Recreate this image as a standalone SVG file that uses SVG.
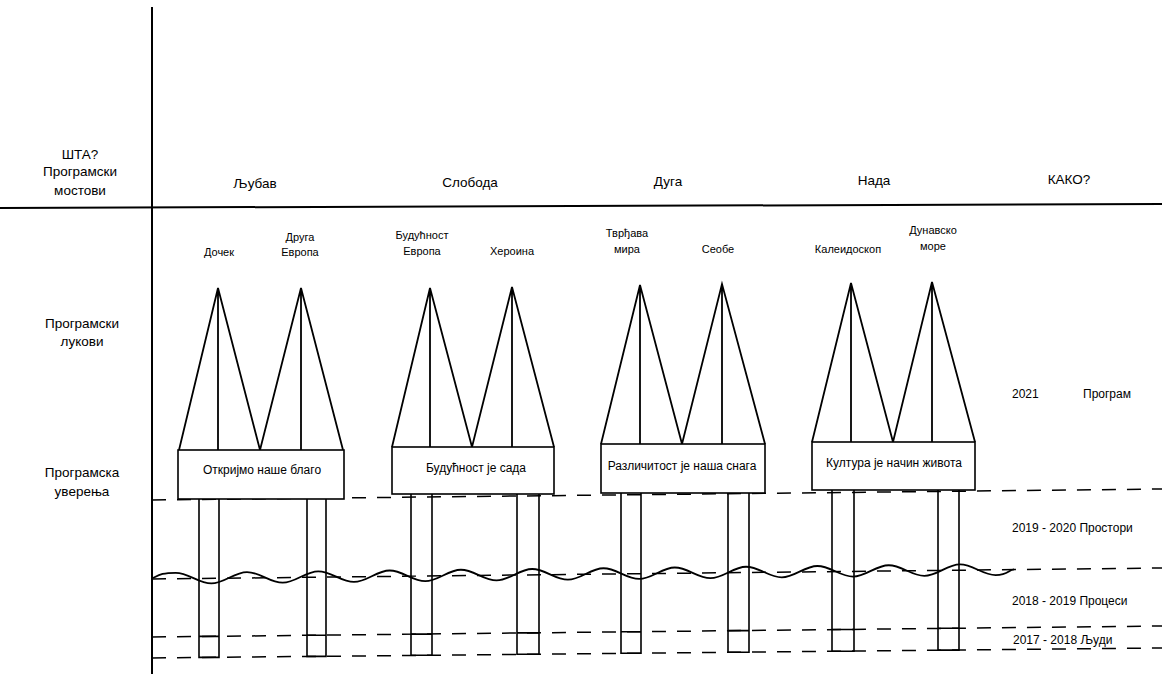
<svg xmlns="http://www.w3.org/2000/svg" width="1162" height="674" viewBox="0 0 1162 674">
<style>
text{font-family:"Liberation Sans",Arial,sans-serif;fill:#000}
.lbl{font-size:13.5px;text-anchor:middle}
.hdr{font-size:13.5px;text-anchor:middle}
.sub{font-size:11px;text-anchor:middle}
.box{font-size:12px;text-anchor:middle}
.yr{font-size:12px}
.arch{fill:none;stroke:#000;stroke-width:1.8;stroke-linejoin:miter}
.rect{fill:#fff;stroke:#000;stroke-width:1.6}
.pil{fill:none;stroke:#000;stroke-width:1.6}
.dash{fill:none;stroke:#000;stroke-width:1.5;stroke-dasharray:14 11}
.solid{fill:none;stroke:#000;stroke-width:2}
</style>
<rect width="1162" height="674" fill="#fff"/>

<g id="frame">
<line class="solid" x1="152" y1="7" x2="152" y2="674"/>
<line class="solid" x1="0" y1="208" x2="1162" y2="204"/>
</g>

<g id="left-labels">
<text class="lbl" x="80" y="159">ШТА?</text>
<text class="lbl" x="80" y="176">Програмски</text>
<text class="lbl" x="80" y="195">мостови</text>
<text class="lbl" x="82" y="328">Програмски</text>
<text class="lbl" x="82" y="346">лукови</text>
<text class="lbl" x="82" y="477">Програмска</text>
<text class="lbl" x="82" y="496">уверења</text>
</g>

<g id="bridge-headers">
<text class="hdr" x="255" y="188">Љубав</text>
<text class="hdr" x="470" y="187">Слобода</text>
<text class="hdr" x="668" y="186">Дуга</text>
<text class="hdr" x="874" y="185">Нада</text>
<text class="hdr" x="1069" y="184">КАКО?</text>
</g>

<g id="connectors">
<line class="dash" x1="152" y1="500" x2="1162" y2="489"/>
<line class="dash" x1="152" y1="579" x2="1162" y2="568"/>
<line class="dash" x1="152" y1="637" x2="1162" y2="626"/>
<line class="dash" x1="152" y1="658" x2="1162" y2="648"/>
<path class="arch" stroke-width="1.6" d="M153,578 C160,574.5 162.7,572.8 175.7,572.8 S198.37,583.41 211.35,583.41 S234.02,572.03 247,572.03 S269.67,582.65 282.65,582.65 S305.32,571.28 318.3,571.28 S340.97,581.9 353.95,581.9 S376.62,570.52 389.6,570.52 S412.27,581.14 425.25,581.14 S447.92,569.76 460.9,569.76 S483.57,580.39 496.55,580.39 S519.22,569.01 532.2,569.01 S554.87,579.63 567.85,579.63 S590.52,568.25 603.5,568.25 S626.17,578.88 639.15,578.88 S661.82,567.5 674.8,567.5 S697.47,578.12 710.45,578.12 S733.12,566.74 746.1,566.74 S768.77,577.36 781.75,577.36 S804.42,565.99 817.4,565.99 S840.07,576.61 853.05,576.61 S875.72,565.23 888.7,565.23 S911.37,575.85 924.35,575.85 S947.02,564.47 960,564.47 S982.67,575.1 995.65,575.1 S1008,570 1014,569.4"/>
</g>

<g id="arch-group-1">
<text class="sub" x="219" y="256">Дочек</text>
<text class="sub" x="300" y="241">Друга</text>
<text class="sub" x="300" y="256">Европа</text>
<path class="arch" d="M179,450 L218,288 L260,450 L301,288 L343,450 M218,288 V450 M301,288 V450"/>
<path class="pil" d="M199,499 V657.4 H219 V499 M199,636.4 H219 M307,499 V656.4 H326 V499 M307,635.2 H326"/>
<rect class="rect" x="178" y="450" width="166" height="49"/>
<text class="box" x="262" y="474">Откријмо наше благо</text>
</g>

<g id="arch-group-2">
<text class="sub" x="422" y="239">Будућност</text>
<text class="sub" x="422" y="255">Европа</text>
<text class="sub" x="512" y="255">Хероина</text>
<path class="arch" d="M392,447 L430,288 L472,447 L512,287 L554,447 M430,288 V447 M512,287 V447"/>
<path class="pil" d="M411,494 V655.3 H432 V494 M411,634.1 H432 M517,494 V654.3 H539 V494 M517,632.9 H539"/>
<rect class="rect" x="392" y="447" width="162" height="47"/>
<text class="box" x="476" y="472">Будућност је сада</text>
</g>

<g id="arch-group-3">
<text class="sub" x="627" y="237">Тврђава</text>
<text class="sub" x="627" y="253">мира</text>
<text class="sub" x="718" y="253">Сеобе</text>
<path class="arch" d="M601,444 L640,285 L682,444 L722,284 L765,444 M640,285 V444 M722,284 V444"/>
<path class="pil" d="M621,493 V653.3 H641 V493 M621,631.8 H641 M728,493 V652.2 H749 V493 M728,630.6 H749"/>
<rect class="rect" x="601" y="444" width="164" height="49"/>
<text class="box" x="682" y="470">Различитост је наша снага</text>
</g>

<g id="arch-group-4">
<text class="sub" x="848" y="253">Калеидоскоп</text>
<text class="sub" x="933" y="234">Дунавско</text>
<text class="sub" x="933" y="250">море</text>
<path class="arch" d="M812,442 L851,283 L893,442 L932,282 L975,442 M851,283 V442 M932,282 V442"/>
<path class="pil" d="M832,490 V651.2 H854 V490 M832,629.5 H854 M938,490 V650.1 H959 V490 M938,628.3 H959"/>
<rect class="rect" x="812" y="442" width="163" height="48"/>
<text class="box" x="894" y="467">Култура је начин живота</text>
</g>

<g id="timeline">
<text class="yr" x="1012" y="398">2021</text>
<text class="yr" x="1083" y="398">Програм</text>
<text class="yr" x="1012" y="532">2019 - 2020  Простори</text>
<text class="yr" x="1012" y="605">2018 - 2019  Процеси</text>
<text class="yr" x="1013" y="644">2017 - 2018  Људи</text>
</g>
</svg>
